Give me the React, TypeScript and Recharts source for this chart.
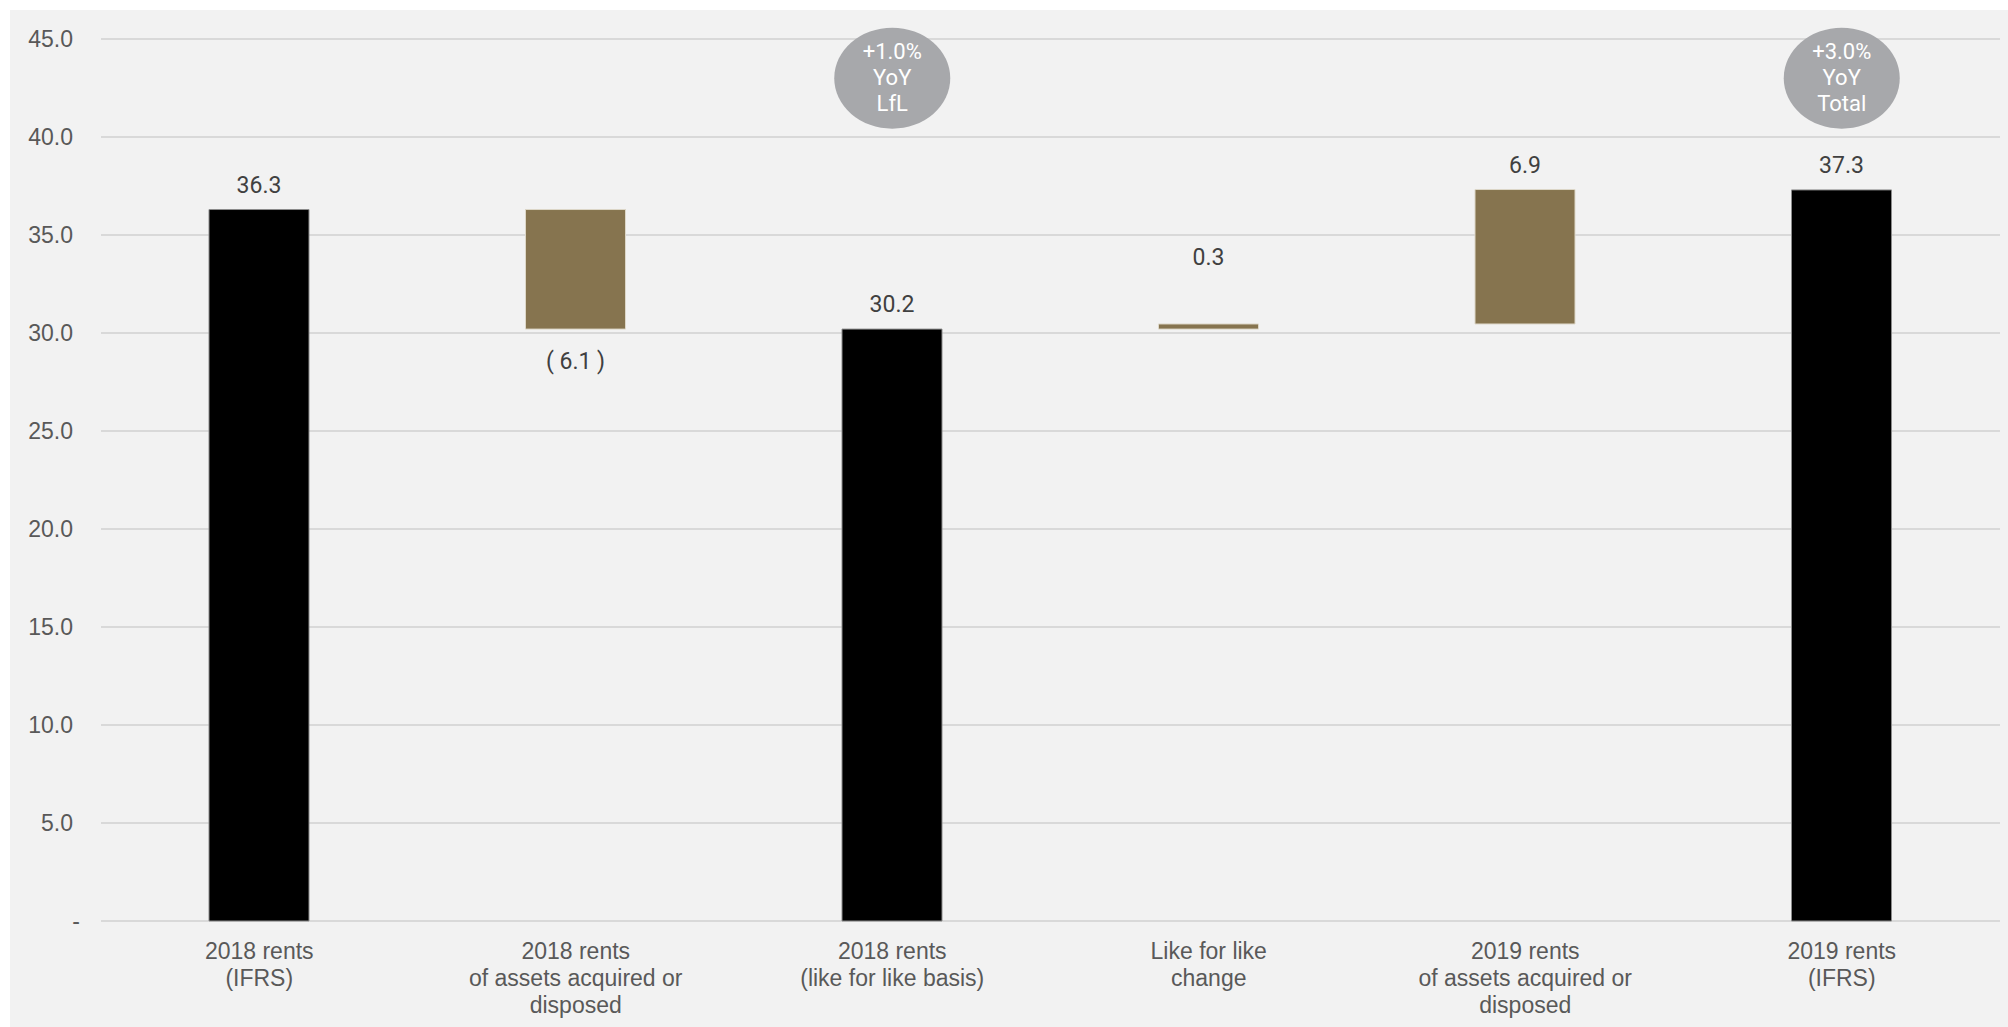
import React from "react";
import {
  BarChart,
  Bar,
  XAxis,
  YAxis,
  CartesianGrid,
  Cell,
  LabelList,
  ReferenceDot,
} from "recharts";

// ---- data ----
const categoryIds = ["r2018", "acq2018", "lfl2018", "lflchg", "acq2019", "r2019"];
const categoryLabels: string[][] = [
  ["2018 rents", "(IFRS)"],
  ["2018 rents", "of assets acquired or", "disposed"],
  ["2018 rents", "(like for like basis)"],
  ["Like for like", "change"],
  ["2019 rents", "of assets acquired or", "disposed"],
  ["2019 rents", "(IFRS)"],
];
const amounts = [36.3, -6.1, 30.2, 0.26, 6.86, 37.3];
const isTotal = [true, false, true, false, false, true];
const yTicks = [0, 5, 10, 15, 20, 25, 30, 35, 40, 45];
const bubbleCategories = ["lfl2018", "r2019"];
const bubbleTexts: string[][] = [
  ["+1.0%", "YoY", "LfL"],
  ["+3.0%", "YoY", "Total"],
];
const bubbleLevel = 43;

// label distance from the bar edge (style)
const LABEL_GAP = [25, 32, 25, 67, 25, 25];

// ---- build waterfall ranges ----
const buildRows = () => {
  let running = 0;
  return categoryIds.map((id, i) => {
    const a = amounts[i];
    let lo: number;
    let hi: number;
    if (isTotal[i]) {
      lo = 0;
      hi = a;
      running = a;
    } else {
      const next = running + a;
      lo = Math.min(running, next);
      hi = Math.max(running, next);
      running = next;
    }
    return { id, range: [lo, hi] };
  });
};
const rows = buildRows();

const BLACK = "#000000";
const BROWN = "#86744F";

const XTick = (props: any) => {
  const { x, y, payload } = props;
  const idx = categoryIds.indexOf(payload.value);
  const lines = categoryLabels[idx] || [];
  return (
    <g>
      {lines.map((l, i) => (
        <text
          key={i}
          x={x}
          y={y + 38 + i * 27}
          textAnchor="middle"
          fill="#595959"
          fontFamily="'Liberation Sans', Arial, sans-serif"
          fontSize={23}
        >
          {l}
        </text>
      ))}
    </g>
  );
};

const YTick = (props: any) => {
  const { x, y, payload } = props;
  const v = payload.value;
  return (
    <text
      x={v === 0 ? x + 7 : x}
      y={y + 8}
      textAnchor="end"
      fill="#595959"
      fontFamily="'Liberation Sans', Arial, sans-serif"
      fontSize={23}
    >
      {v === 0 ? "-" : v.toFixed(1)}
    </text>
  );
};

const ValueLabel = (props: any) => {
  const { x, y, width, height, index } = props;
  const a = amounts[index];
  const top = Math.min(y, y + height);
  const bottom = Math.max(y, y + height);
  const cx = x + width / 2;
  const neg = a < 0;
  const cy = neg ? bottom + LABEL_GAP[index] : top - LABEL_GAP[index];
  const txt = neg ? `( ${Math.abs(a).toFixed(1)} )` : a.toFixed(1);
  return (
    <text
      x={cx}
      y={cy + 8}
      textAnchor="middle"
      fill="#404040"
      fontFamily="Roboto, sans-serif"
      fontSize={23}
    >
      {txt}
    </text>
  );
};

const makeBubble = (lines: string[]) => (props: any) => {
  const { cx, cy } = props;
  return (
    <g>
      <ellipse cx={cx} cy={cy} rx={58} ry={50.5} fill="#A7A8AB" />
      {lines.map((l, i) => (
        <text
          key={i}
          x={cx}
          y={cy + 7 + (i - 1) * 26}
          textAnchor="middle"
          fill="#FFFFFF"
          fontFamily="Roboto, sans-serif"
          fontSize={22}
        >
          {l}
        </text>
      ))}
    </g>
  );
};

export default function App() {
  return (
    <div
      style={{
        position: "fixed",
        left: 10,
        top: 10,
        width: 1998,
        height: 1017,
        background: "#F2F2F2",
      }}
    >
      <BarChart
        width={1998}
        height={1017}
        data={rows}
        margin={{ top: 29, right: 8, bottom: 0, left: 0 }}
        barSize={100}
      >
        <CartesianGrid
          vertical={false}
          stroke="#D9D9D9"
          strokeWidth={2}
        />
        <XAxis
          dataKey="id"
          height={106}
          axisLine={false}
          tickLine={false}
          tickSize={0}
          tickMargin={0}
          interval={0}
          tick={<XTick />}
        />
        <YAxis
          width={91}
          domain={[0, 45]}
          ticks={yTicks}
          axisLine={false}
          tickLine={false}
          tickSize={0}
          tickMargin={28}
          interval={0}
          tick={<YTick />}
        />
        <Bar dataKey="range" isAnimationActive={false}>
          {rows.map((r, i) => (
            <Cell
              key={r.id}
              fill={isTotal[i] ? BLACK : BROWN}
              stroke={isTotal[i] ? "#8C8C8C" : "#DDD7C8"}
              strokeWidth={1}
            />
          ))}
          <LabelList dataKey="range" content={<ValueLabel />} />
        </Bar>
        {bubbleCategories.map((c, i) => (
          <ReferenceDot
            key={c}
            x={c}
            y={bubbleLevel}
            r={50}
            ifOverflow="visible"
            shape={makeBubble(bubbleTexts[i])}
          />
        ))}
      </BarChart>
    </div>
  );
}
